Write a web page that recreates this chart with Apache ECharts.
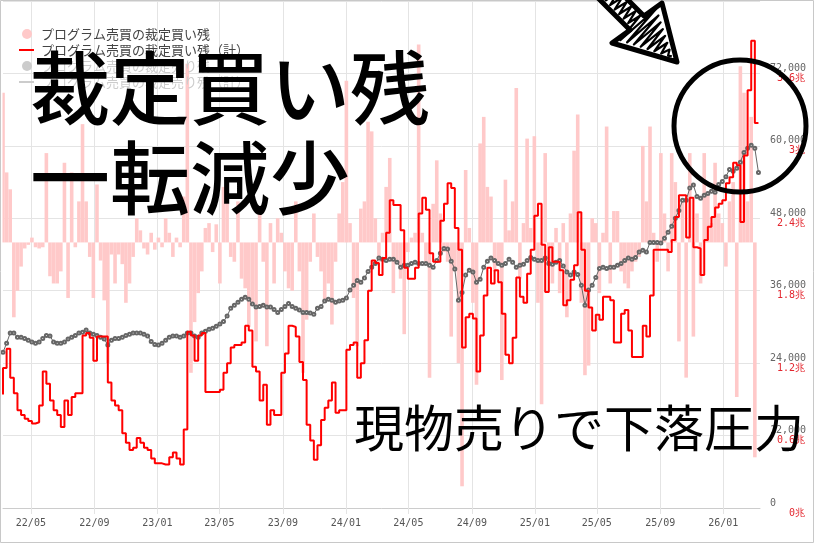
<!DOCTYPE html>
<html><head><meta charset="utf-8">
<script src="https://cdn.jsdelivr.net/npm/echarts@6/dist/echarts.min.js"></script>
<style>html,body{margin:0;padding:0;background:#fff}#c{width:816px;height:544px}</style>
</head><body><div id="c"></div>
<script>
// ---- axis range and tick labels ----
const axisStartDate = '2022-03-08';
const axisEndDate = '2026-03-13';
const weekStartDate = '2022-03-08';
const monthTicks = ['2022-05-01','2022-09-01','2023-01-01','2023-05-01','2023-09-01','2024-01-01','2024-05-01','2024-09-01','2025-01-01','2025-05-01','2025-09-01','2026-01-01'];
const tickLabels = ['22/05','22/09','23/01','23/05','23/09','24/01','24/05','24/09','25/01','25/05','25/09','26/01'];

// ---- series names ----
const nameBuy = 'プログラム売買の裁定買い残';
const nameBuyTotal = 'プログラム売買の裁定買い残（計）';
const nameSell = 'プログラム売買の裁定売り残';
const nameSellTotal = 'プログラム売買の裁定売り残（計）';
const nameIndex = '日経平均株価';

// ---- weekly bars: change of arbitrage buy balance (億円) ----
const buyChange = [620,290,220,-310,-200,-100,-25,-10,20,-20,-25,-20,370,-140,-170,-170,-120,330,-230,290,
-20,170,490,170,-60,-230,240,-75,-240,-500,-50,-170,-50,-90,-250,-170,-60,100,50,-25,
-50,40,-30,20,-20,100,40,-60,20,-20,190,740,-540,-330,-210,-120,60,80,-40,75,
-170,230,190,-60,-80,170,-150,-190,-350,-250,-410,120,-80,-430,80,-170,100,40,-120,-190,
-200,170,-120,-540,-320,-80,120,-60,-120,-250,-170,-340,-80,120,250,670,80,-230,-430,140,
170,500,460,100,-80,40,230,350,-210,-80,-150,-380,-40,20,40,820,40,-80,-560,160,
340,120,-40,-80,-390,-120,-500,-1010,300,60,-250,-590,410,520,230,190,-120,-80,-570,260,
50,170,640,-150,80,430,60,440,-250,-670,370,-80,-170,60,-210,80,-310,120,380,530,
-250,-550,-510,100,80,-210,40,480,-170,130,130,-120,-170,-190,-120,-80,-60,400,170,480,
40,-80,370,120,-120,370,250,-410,170,-560,370,-390,120,-170,370,210,80,330,120,80,
-100,170,250,-640,730,620,170,520,-890,0];

// ---- weekly arbitrage buy balance total (兆円) ----
const buyTotal = [0.94,1.16,1.32,1.08,0.95,0.81,0.77,0.74,0.72,0.70,0.71,0.85,1.13,1.03,0.89,0.81,0.77,0.67,0.89,0.77,
0.92,0.95,0.95,1.43,1.45,1.41,1.22,1.42,1.42,1.42,1.04,0.89,0.85,0.81,0.62,0.54,0.48,0.50,0.58,0.54,
0.50,0.48,0.41,0.37,0.37,0.36,0.36,0.42,0.46,0.41,0.36,0.65,1.46,1.43,1.22,1.43,1.45,0.96,0.96,0.96,
0.96,0.98,1.12,1.20,1.33,1.35,1.35,1.37,1.51,1.47,1.17,1.13,0.89,1.02,0.69,0.81,0.77,0.77,1.12,1.28,
1.51,1.50,1.42,1.21,1.06,0.69,0.56,0.40,0.52,0.73,0.83,0.89,1.04,0.79,0.81,0.81,1.31,1.35,1.37,1.08,
1.20,1.39,1.80,2.05,2.03,1.93,2.07,2.28,2.55,2.51,2.51,2.30,1.99,1.90,1.90,1.99,2.44,2.57,2.47,2.11,
2.04,2.04,2.38,2.52,2.69,2.65,2.32,2.14,1.33,1.58,1.61,1.57,1.13,1.43,1.76,1.99,1.86,1.97,1.87,1.61,
1.27,1.20,1.41,1.91,1.75,1.70,1.94,2.14,2.42,2.52,2.18,1.79,2.16,2.04,2.04,1.97,1.68,1.72,1.89,2.01,
2.45,2.14,1.80,1.66,1.47,1.60,1.56,1.75,1.75,1.72,1.37,1.37,1.61,1.64,1.47,1.25,1.25,1.25,1.51,1.42,
1.76,2.14,2.14,2.14,2.14,2.12,2.22,2.41,2.59,2.59,2.24,2.57,2.16,2.15,1.93,2.22,2.33,2.41,2.49,2.52,
2.55,2.69,2.74,2.86,2.84,2.37,2.92,3.46,3.87,3.19];

// ---- weekly stock index level ----
const indexLevel = [25800,27300,29000,29000,28300,28300,28100,27800,27500,27300,27500,28100,28600,28500,27500,27300,27300,27500,28000,28300,
28600,29000,29100,29500,29000,28800,28600,28300,28000,27000,27800,28100,28100,28300,28600,28800,29000,29000,29000,28800,
28500,27600,27100,27000,27300,27800,28300,28500,28500,28300,28500,29000,29000,28500,28300,29000,29300,29600,29800,30100,
30500,30900,31800,33100,33600,34100,34600,34900,34600,33800,33300,33400,33600,33300,33300,32900,32400,32900,33400,33900,
33400,33100,32800,32400,32400,32300,32100,33100,33400,34300,34600,34400,34100,34300,34400,34800,36100,36900,37700,37400,
38100,39200,39900,40500,41400,41200,41000,41200,41200,40700,39900,40200,40200,40500,40700,40500,40500,40500,40200,39900,
41000,42200,43000,42900,40900,39600,34400,35700,38600,39400,39100,37400,37900,39900,40900,41400,41000,40500,40200,40500,
41200,40700,39900,40200,40400,41000,41500,41200,41000,41000,41400,40500,40400,40700,41000,40100,39100,38600,39100,38700,
36900,33600,36100,36900,38200,39700,39900,39700,39900,39900,40200,40500,41000,41400,41200,41500,42400,42700,42400,44000,
44000,44000,43900,44700,45700,46700,48000,49300,51000,51000,53000,53500,51600,51300,51800,52100,52500,52300,53600,54100,
54900,56100,55800,56300,57300,58900,59600,60100,59600,55600];

// ---- build category axis (calendar days) ----
function iso(d){return d.toISOString().slice(0,10);}
const days = [];
for (let t = Date.parse(axisStartDate+'T00:00:00Z'); t <= Date.parse(axisEndDate+'T00:00:00Z'); t += 86400000) days.push(iso(new Date(t)));
const wk0 = Date.parse(weekStartDate+'T00:00:00Z');
const weekDate = i => iso(new Date(wk0 + i*7*86400000));
const tickSet = new Set(monthTicks);
const isTick = (idx, val) => tickSet.has(val);
const pairs = arr => arr.map((v,i)=>[weekDate(i), v]);

// ---- hand-drawn arrow decoration (zigzag hatching inside the outline) ----
const arrowOutline = [[598,-2],[630,30],[612,43],[677,62],[662,3],[644,16],[612,-16]];
function arrowHatch(){
  const s = [606,-9], e = [672,57];
  const L = Math.hypot(e[0]-s[0], e[1]-s[1]);
  const d = [(e[0]-s[0])/L, (e[1]-s[1])/L], p = [-d[1], d[0]];
  const pts = []; let side = 1;
  for (let t = 0; t <= L; t += 3.2) {
    const base = 42;
    const w = t < base ? 7 : Math.max(0, 26*(1-(t-base)/(L-base)));
    pts.push([s[0]+d[0]*t+p[0]*w*side, s[1]+d[1]*t+p[1]*w*side]);
    side = -side;
  }
  return pts;
}
const lineIcon = 'path://M0,0 M18,10 M1,4 L16,4 L16,6 L1,6 Z';

const chart = echarts.init(document.getElementById('c'), null, {renderer:'canvas'});
const mono = 'DejaVu Sans Mono';
const grid = '#e4e4e4';
chart.setOption({
  animation: false,
  backgroundColor: '#fff',
  grid: {left: 3, right: 56, top: 1, bottom: 36, containLabel: false},
  legend: {
    orient: 'vertical', left: 18, top: 27, itemWidth: 18, itemHeight: 10, itemGap: 2, padding: 0,
    textStyle: {fontSize: 13, color: '#444', fontFamily: 'Noto Sans CJK JP', lineHeight: 14},
    inactiveColor: '#ccc',
    data: [{name: nameBuy, icon: 'circle'}, {name: nameBuyTotal, icon: lineIcon},
           {name: nameSell, icon: 'circle'}, {name: nameSellTotal, icon: lineIcon}],
    selected: {[nameSell]: false, [nameSellTotal]: false}
  },
  xAxis: {
    type: 'category', data: days, boundaryGap: false,
    axisLine: {lineStyle: {color: '#ccc'}},
    axisTick: {interval: isTick, length: 6, lineStyle: {color: grid}},
    splitLine: {show: true, interval: isTick, lineStyle: {color: grid}},
    axisLabel: {interval: isTick, margin: 10, color: '#555', fontFamily: mono, fontSize: 10,
      formatter: v => { const i = monthTicks.indexOf(v); return i >= 0 ? tickLabels[i] : ''; }}
  },
  yAxis: [
    {type: 'value', position: 'right', min: 0, max: 84000, interval: 12000,
      axisLine: {show: false}, axisTick: {show: false},
      splitLine: {lineStyle: {color: grid}},
      axisLabel: {margin: 10, color: '#666', fontFamily: mono, fontSize: 10, align: 'left', verticalAlign: 'bottom',
        formatter: v => v >= 84000 ? '' : v.toLocaleString('en-US')}},
    {type: 'value', position: 'right', min: 0, max: 4.2, interval: 0.6,
      axisLine: {show: false}, axisTick: {show: false}, splitLine: {show: false},
      axisLabel: {margin: 45, color: '#e3262e', fontFamily: mono, fontSize: 10, align: 'right', verticalAlign: 'top',
        formatter: v => v > 4.1 ? '' : (Math.round(v*10)/10) + '兆'}},
    {type: 'value', show: false, min: -1100, max: 1000}
  ],
  series: [
    {name: nameBuy, type: 'bar', yAxisIndex: 2, barWidth: 3.6, itemStyle: {color: '#ffc9c9'}, data: pairs(buyChange), z: 1},
    {name: nameSell, type: 'bar', yAxisIndex: 2, barWidth: 3.6, itemStyle: {color: '#bbb'}, data: [], z: 1},
    {name: nameIndex, type: 'line', yAxisIndex: 0, symbol: 'emptyCircle', symbolSize: 3, showAllSymbol: true,
      lineStyle: {color: '#666', width: 1}, itemStyle: {color: '#666', borderWidth: 1}, data: pairs(indexLevel), z: 3},
    {name: nameBuyTotal, type: 'line', yAxisIndex: 1, step: 'start', symbol: 'none',
      lineStyle: {color: '#ff0000', width: 2}, itemStyle: {color: '#ff0000'}, data: pairs(buyTotal), z: 4},
    {name: nameSellTotal, type: 'line', yAxisIndex: 1, symbol: 'none',
      lineStyle: {color: '#999', width: 1}, itemStyle: {color: '#999'}, data: [], z: 4}
  ],
  graphic: [
    {type: 'rect', z: 100, silent: true, shape: {x: 0.5, y: 0.5, width: 813, height: 542}, style: {fill: 'none', stroke: '#c8c8c8', lineWidth: 1}},
    {type: 'text', z: 100, style: {text: '裁定買い残', x: 30, y: 88, fill: '#000', font: '500 80px "Noto Sans CJK JP"', align: 'left', verticalAlign: 'middle', textAlign: 'left', textVerticalAlign: 'middle'}},
    {type: 'text', z: 100, style: {text: '一転減少', x: 30, y: 178, fill: '#000', font: '500 80px "Noto Sans CJK JP"', align: 'left', verticalAlign: 'middle', textAlign: 'left', textVerticalAlign: 'middle'}},
    {type: 'text', z: 100, style: {text: '現物売りで下落圧力', x: 354, y: 428, fill: '#000', font: '50px "Noto Sans CJK JP"', align: 'left', verticalAlign: 'middle', textAlign: 'left', textVerticalAlign: 'middle'}},
    {type: 'circle', z: 100, shape: {cx: 740, cy: 126, r: 66}, style: {fill: 'none', stroke: '#000', lineWidth: 5}},
    {type: 'polygon', z: 100, shape: {points: arrowOutline},
      style: {fill: '#fff', stroke: '#000', lineWidth: 5, lineJoin: 'round'}},
    {type: 'polyline', z: 101, shape: {points: arrowHatch()},
      style: {fill: 'none', stroke: '#000', lineWidth: 2.2, lineJoin: 'round'}}
  ]
});
</script></body></html>
